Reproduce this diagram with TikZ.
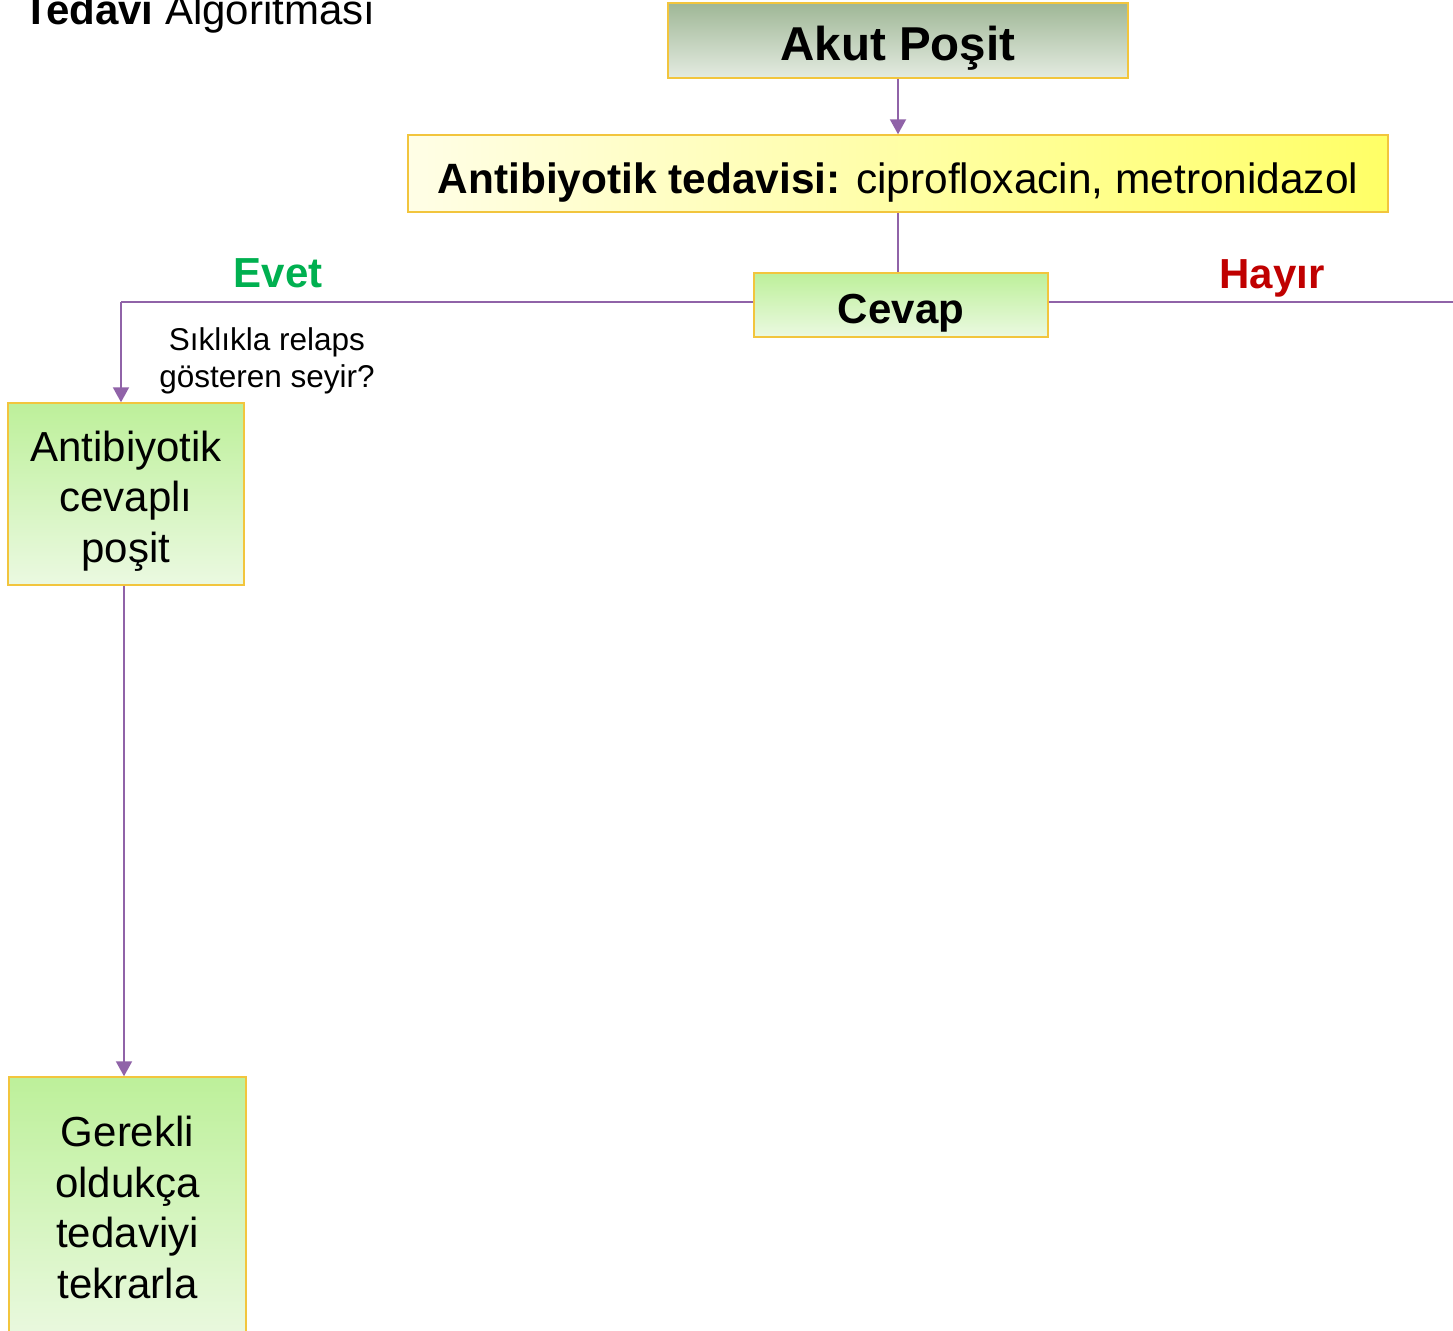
\documentclass[tikz,border=0pt]{standalone}
\usepackage{fontspec}
\setmainfont{Liberation Sans}
\usetikzlibrary{arrows.meta}
\definecolor{bordergold}{HTML}{F2C53D}
\definecolor{linepurple}{HTML}{9063A8}
\definecolor{akuttop}{HTML}{9FB796}
\definecolor{akutbot}{HTML}{E4EBE1}
\definecolor{yelleft}{HTML}{FFFEE6}
\definecolor{yelright}{HTML}{FFFF66}
\definecolor{grntop}{HTML}{BDF09A}
\definecolor{grnbot}{HTML}{EBF9E1}
\definecolor{evetgreen}{HTML}{00B050}
\definecolor{hayirred}{HTML}{C00000}
\tikzset{
  box/.style={draw=bordergold, line width=1.5pt, inner sep=0pt, align=center},
  greenbox/.style={box, top color=grntop, bottom color=grnbot},
  big/.style={font=\fontsize{42}{50.5}\selectfont},
  conn/.style={draw=linepurple, line width=2pt},
  arr/.style={conn, -{Triangle[width=16pt,length=15pt]}},
}
\begin{document}
\begin{tikzpicture}[x=1pt,y=-1pt]
\clip (0,0) rectangle (1453,1330);
\fill[white] (0,0) rectangle (1453,1330);

\node[anchor=base west, font=\fontsize{42}{50}\selectfont] (title) at (20,25) {\textbf{Tedavi} Algoritması};

\node[box, top color=akuttop, bottom color=akutbot, minimum width=460pt, minimum height=75pt,
      font=\fontsize{47.5}{56}\selectfont\bfseries, text height=41pt, text depth=0pt] (akut) at (898,40.5) {Akut Poşit};

\node[box, left color=yelleft, right color=yelright, minimum width=980pt, minimum height=77pt,
      font=\fontsize{42.4}{52}\selectfont, text height=40pt, text depth=0pt] (anti) at (898,173.5)
      {\textbf{Antibiyotik tedavisi:} ciprofloxacin, metronidazol};

\node[greenbox, minimum width=294pt, minimum height=64pt,
      font=\fontsize{42}{50}\selectfont\bfseries, text height=37pt, text depth=0pt] (cevap) at (901,305) {Cevap};

\node[greenbox, big, minimum width=236pt, minimum height=182pt, text height=136pt, text depth=0pt] (box1) at (126,494)
      {Antibiyotik\\cevaplı\\poşit};

\node[greenbox, big, minimum width=237pt, minimum height=268pt, text height=174pt, text depth=0pt] (box2) at (127.5,1211)
      {Gerekli\\oldukça\\tedaviyi\\tekrarla};

\node[anchor=base, font=\fontsize{42}{50}\selectfont\bfseries, text=evetgreen] (evet) at (278,287) {Evet};
\node[anchor=base, font=\fontsize{42}{50}\selectfont\bfseries, text=hayirred] (hayir) at (1272,288) {Hayır};
\node[anchor=base, align=center, font=\fontsize{31.5}{37}\selectfont] (relaps) at (267,387) {Sıklıkla relaps\\gösteren seyir?};

\coordinate (ev) at (121,302);
\coordinate (hy) at (1453,302);
\coordinate (k) at (124,0);

\draw[arr] (akut.south) -- (anti.north);
\draw[conn] (anti.south) -- (anti.south |- cevap.north);
\draw[conn] (cevap.west |- ev) -- (ev);
\draw[arr] (ev) -- (ev |- box1.north);
\draw[conn] (cevap.east |- hy) -- (hy);
\draw[arr] (box1.south -| k) -- (box2.north -| k);
\end{tikzpicture}
\end{document}
